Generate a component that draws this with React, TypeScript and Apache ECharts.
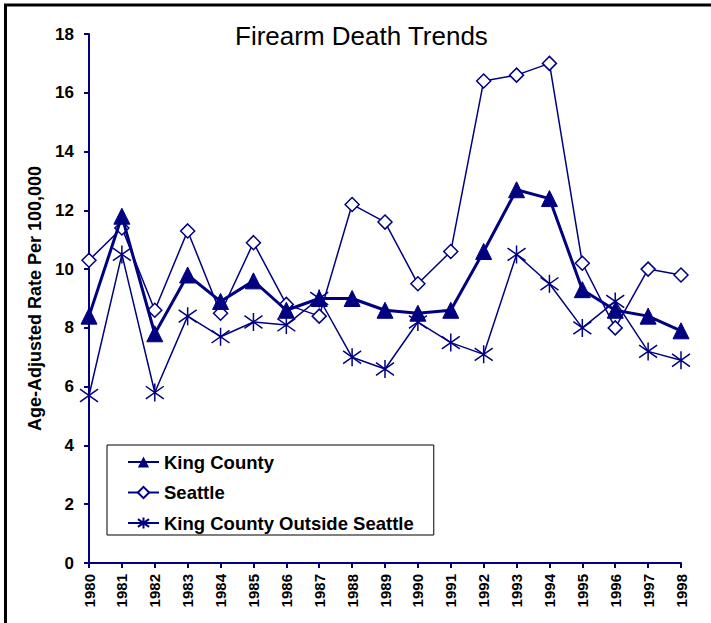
import React, { useEffect, useRef } from "react";
import * as echarts from "echarts";

const years = ["1980","1981","1982","1983","1984","1985","1986","1987","1988","1989","1990","1991","1992","1993","1994","1995","1996","1997","1998"];
const kingCounty = [8.4, 11.8, 7.8, 9.8, 8.9, 9.6, 8.6, 9.0, 9.0, 8.6, 8.5, 8.6, 10.6, 12.7, 12.4, 9.3, 8.6, 8.4, 7.9];
const seattle = [10.3, 11.4, 8.6, 11.3, 8.5, 10.9, 8.8, 8.4, 12.2, 11.6, 9.5, 10.6, 16.4, 16.6, 17.0, 10.2, 8.0, 10.0, 9.8];
const outsideSeattle = [5.7, 10.5, 5.8, 8.4, 7.7, 8.2, 8.1, 9.0, 7.0, 6.6, 8.2, 7.5, 7.1, 10.5, 9.5, 8.0, 8.9, 7.2, 6.9];
const seriesNames = ["King County", "Seattle", "King County Outside Seattle"];

const NAVY = "#000080";
const FONT = "Liberation Sans, Arial, sans-serif";
const ASTERISK = "path://M0,-10L0,10M-9,-7L9,7M-9,7L9,-7";

export default function App() {
  const ref = useRef<HTMLDivElement>(null);
  useEffect(() => {
    const chart = echarts.init(ref.current!, null, { renderer: "svg" });
    chart.setOption({
      animation: false,
      backgroundColor: "#fff",
      title: {
        text: "Firearm Death Trends",
        left: 230,
        top: 18,
        textStyle: { fontFamily: FONT, fontSize: 26, fontWeight: "normal", color: "#000" },
      },
      graphic: [
        { type: "line", shape: { x1: 5.5, y1: 4, x2: 5.5, y2: 623 }, style: { stroke: "#000", lineWidth: 3 } },
        { type: "line", shape: { x1: 4, y1: 5, x2: 711, y2: 5 }, style: { stroke: "#000", lineWidth: 3 } },
      ],
      legend: {
        orient: "vertical",
        left: 107,
        top: 445,
        data: seriesNames,
        itemWidth: 31,
        itemHeight: 14,
        itemGap: 10.5,
        padding: [7, 20, 2, 20],
        borderColor: "#000",
        borderWidth: 1,
        backgroundColor: "#fff",
        textStyle: { fontFamily: FONT, fontSize: 18.5, lineHeight: 20, fontWeight: "bold", color: "#000" },
      },
      grid: { left: 89, top: 34, right: 30, bottom: 60 },
      xAxis: {
        type: "category",
        data: years,
        boundaryGap: false,
        axisLine: { lineStyle: { color: NAVY, width: 2 } },
        axisTick: { show: true, length: 5, lineStyle: { color: NAVY, width: 2 } },
        axisLabel: { rotate: 90, margin: 11, fontFamily: FONT, fontSize: 15, fontWeight: "bold", color: "#000" },
        splitLine: { show: false },
      },
      yAxis: {
        type: "value",
        min: 0,
        max: 18,
        interval: 2,
        name: "Age-Adjusted Rate Per 100,000",
        nameLocation: "middle",
        nameRotate: 90,
        nameGap: 43,
        nameTextStyle: { fontFamily: FONT, fontSize: 18, fontWeight: "bold", color: "#000" },
        axisLine: { show: true, lineStyle: { color: NAVY, width: 2 } },
        axisTick: { show: true, length: 5, lineStyle: { color: NAVY, width: 2 } },
        axisLabel: { margin: 15, fontFamily: FONT, fontSize: 17, fontWeight: "bold", color: "#000" },
        splitLine: { show: false },
      },
      series: [
        {
          name: seriesNames[0],
          type: "line",
          data: kingCounty,
          symbol: "triangle",
          symbolSize: 16,
          z: 3,
          lineStyle: { color: NAVY, width: 3 },
          itemStyle: { color: NAVY, borderColor: NAVY },
        },
        {
          name: seriesNames[1],
          type: "line",
          data: seattle,
          symbol: "diamond",
          symbolSize: 14,
          z: 2,
          lineStyle: { color: NAVY, width: 1.5 },
          itemStyle: { color: "#fff", borderColor: NAVY, borderWidth: 1.5 },
        },
        {
          name: seriesNames[2],
          type: "line",
          data: outsideSeattle,
          symbol: ASTERISK,
          symbolSize: 18,
          z: 4,
          lineStyle: { color: NAVY, width: 1.5 },
          itemStyle: { color: NAVY, borderColor: NAVY, borderWidth: 1.5 },
        },
      ],
    });
    return () => chart.dispose();
  }, []);
  return <div ref={ref} style={{ width: 711, height: 623, position: "absolute", left: 0, top: 0 }} />;
}
